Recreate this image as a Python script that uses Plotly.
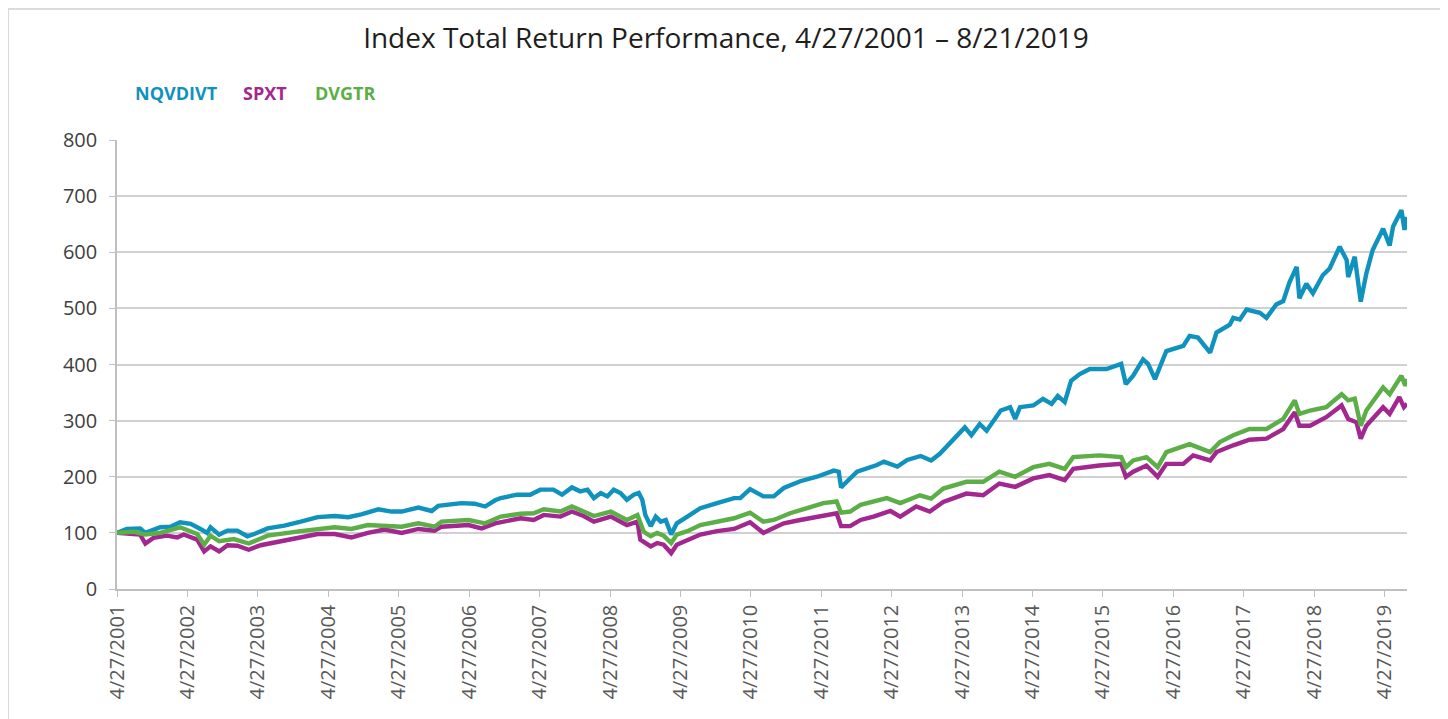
import plotly.graph_objects as go

# ---------------- data ----------------
nq_dates = ["2001-04-27","2001-06-17","2001-08-25","2001-09-21","2001-12-08","2002-01-30","2002-03-20","2002-05-14",
            "2002-07-04","2002-08-07","2002-08-25","2002-10-09","2002-11-21","2003-01-11","2003-03-04","2003-04-09",
            "2003-06-17","2003-09-12","2003-12-06","2004-03-03","2004-05-30","2004-08-07","2004-10-15","2005-01-11",
            "2005-03-21","2005-05-12","2005-08-07","2005-10-15","2005-11-18","2006-03-18","2006-05-26","2006-07-19",
            "2006-09-09","2006-10-08","2007-01-01","2007-03-10","2007-05-01","2007-07-08","2007-08-22","2007-10-12",
            "2007-11-24","2008-01-01","2008-02-03","2008-03-10","2008-04-13","2008-05-16","2008-06-20","2008-07-23",
            "2008-08-28","2008-09-23","2008-10-11","2008-10-27","2008-11-24","2008-12-20","2009-01-15","2009-02-10",
            "2009-03-10","2009-04-08","2009-06-02","2009-08-08","2009-11-03","2010-01-30","2010-03-03","2010-04-23",
            "2010-07-01","2010-08-24","2010-10-15","2011-01-08","2011-04-05","2011-07-01","2011-07-27","2011-08-08",
            "2011-09-09","2011-10-30","2012-02-10","2012-03-17","2012-05-26","2012-07-16","2012-09-24","2012-11-17",
            "2013-01-01","2013-03-10","2013-05-11","2013-06-14","2013-07-27","2013-09-01","2013-11-13","2014-01-01",
            "2014-01-27","2014-02-21","2014-05-01","2014-06-20","2014-08-04","2014-09-05","2014-10-11","2014-11-13",
            "2014-12-28","2015-02-18","2015-05-15","2015-07-31","2015-08-24","2015-10-01","2015-11-21","2015-12-17",
            "2016-01-22","2016-03-21","2016-06-17","2016-07-20","2016-09-01","2016-11-03","2016-12-06","2017-02-13",
            "2017-03-03","2017-04-06","2017-05-11","2017-07-19","2017-08-22","2017-10-12","2017-11-17","2017-12-20",
            "2018-01-26","2018-02-09","2018-03-17","2018-04-20","2018-06-10","2018-07-16","2018-09-06","2018-10-12",
            "2018-10-20","2018-11-23","2018-12-24","2019-01-22","2019-02-24","2019-04-19","2019-05-23","2019-06-10",
            "2019-07-23","2019-08-08","2019-08-21"]
nq_values = [100,107,108,100,110,111,119,116,
             107,100,110,97,104,104,94,98,
             108,113,120,128,130,128,133,142,
             138,138,145,139,148,153,152,147,
             158,162,168,168,177,177,168,181,
             174,177,162,171,165,177,171,159,
             168,171,159,132,112,129,120,123,
             97,117,129,144,153,162,162,178,
             165,165,180,192,200,211,209,181,
             192,209,221,227,218,230,237,229,
             241,265,288,274,294,282,318,324,
             303,324,327,339,330,344,333,371,
             383,392,392,401,365,380,409,401,
             374,424,433,451,448,421,457,471,
             483,480,498,492,483,507,513,547,
             574,518,544,527,559,571,610,586,
             556,592,512,562,604,642,612,646,
             675,640,663]

sp_dates = ["2001-04-27","2001-07-05","2001-08-25","2001-09-21","2001-11-02","2002-01-11","2002-03-06","2002-04-08",
            "2002-06-17","2002-07-23","2002-08-25","2002-10-09","2002-11-21","2003-01-11","2003-03-11","2003-05-12",
            "2003-08-25","2003-12-06","2004-03-03","2004-05-30","2004-08-25","2004-11-18","2005-02-13","2005-05-12",
            "2005-08-07","2005-10-30","2005-12-05","2006-04-23","2006-07-01","2006-09-09","2006-10-08","2007-01-19",
            "2007-03-28","2007-05-19","2007-08-14","2007-10-12","2007-12-12","2008-02-03","2008-05-01","2008-07-23",
            "2008-09-16","2008-10-01","2008-11-24","2008-12-27","2009-01-30","2009-03-10","2009-04-08","2009-06-02",
            "2009-08-08","2009-11-03","2010-01-30","2010-04-23","2010-07-01","2010-08-07","2010-10-15","2011-01-08",
            "2011-04-05","2011-07-16","2011-08-08","2011-09-24","2011-11-17","2012-01-23","2012-04-20","2012-06-10",
            "2012-09-01","2012-11-10","2013-01-19","2013-05-19","2013-08-14","2013-11-06","2014-01-27","2014-05-01",
            "2014-07-23","2014-10-11","2014-11-24","2015-04-09","2015-07-31","2015-08-24","2015-10-01","2015-12-09",
            "2016-02-05","2016-03-21","2016-06-17","2016-08-07","2016-11-03","2016-12-06","2017-03-03","2017-05-26",
            "2017-08-22","2017-11-17","2018-01-16","2018-02-09","2018-04-05","2018-06-28","2018-09-16","2018-10-20",
            "2018-12-02","2018-12-24","2019-01-22","2019-04-19","2019-05-23","2019-07-12","2019-08-05","2019-08-21"]
sp_values = [100,98,97,81,91,95,92,97,
             88,67,76,67,78,77,70,78,
             85,92,98,98,92,100,106,100,
             107,104,111,114,108,117,119,126,
             123,132,129,138,130,120,129,114,
             120,88,76,82,79,64,79,88,
             97,103,107,119,100,106,117,123,
             129,135,112,112,123,129,139,129,
             147,138,155,170,167,188,182,197,
             203,194,214,220,223,200,209,220,
             200,223,223,238,229,244,256,266,
             268,285,315,291,291,306,327,303,
             297,268,291,324,312,342,324,330]

dv_dates = ["2001-04-27","2001-07-23","2001-09-21","2001-12-08","2002-03-20","2002-06-17","2002-07-23","2002-08-25",
            "2002-10-09","2002-12-24","2003-03-11","2003-06-17","2003-12-06","2004-05-30","2004-08-25","2004-11-18",
            "2005-05-12","2005-08-07","2005-10-30","2005-12-05","2006-04-23","2006-07-19","2006-10-08","2007-01-19",
            "2007-03-28","2007-05-19","2007-08-14","2007-10-12","2007-12-12","2008-02-03","2008-05-01","2008-07-23",
            "2008-09-16","2008-10-19","2008-11-24","2008-12-27","2009-01-30","2009-03-10","2009-04-08","2009-06-02",
            "2009-08-08","2009-11-03","2010-01-30","2010-04-23","2010-07-01","2010-08-24","2010-11-17","2011-02-13",
            "2011-05-08","2011-07-16","2011-08-08","2011-09-24","2011-11-17","2012-04-01","2012-06-10","2012-09-20",
            "2012-11-17","2013-01-19","2013-05-19","2013-08-14","2013-11-06","2014-01-27","2014-05-01","2014-07-23",
            "2014-10-11","2014-11-24","2015-04-09","2015-07-31","2015-08-24","2015-10-01","2015-12-09","2016-02-05",
            "2016-03-21","2016-07-20","2016-11-03","2016-12-24","2017-03-03","2017-05-26","2017-08-22","2017-11-17",
            "2018-01-16","2018-02-09","2018-04-05","2018-06-28","2018-09-16","2018-10-20","2018-11-23","2018-12-24",
            "2019-01-22","2019-04-19","2019-05-23","2019-07-23","2019-08-12","2019-08-21"]
dv_values = [100,102,97,100,110,98,79,95,
             85,89,81,95,103,110,107,114,
             111,117,111,120,123,117,129,134,
             135,142,138,147,138,130,138,123,
             132,102,94,100,95,82,97,103,
             114,120,126,136,120,123,135,144,
             153,156,136,138,150,162,153,167,
             161,179,191,191,209,200,217,223,
             214,235,238,235,217,229,235,217,
             244,258,244,262,274,285,285,303,
             336,312,318,324,347,336,339,291,
             318,359,347,380,362,374]

series_names = ["NQVDIVT", "SPXT", "DVGTR"]
series_colors = ["#0F92BD", "#A2278E", "#5CAE46"]

tick_years = list(range(2001, 2020))
tick_vals = [f"{y}-04-27" for y in tick_years]
tick_text = [f"4/27/{y}" for y in tick_years]

y_ticks = list(range(0, 801, 100))

# ---------------- figure ----------------
fig = go.Figure()
for name, color, xs, ys in zip(series_names, series_colors,
                               [nq_dates, sp_dates, dv_dates],
                               [nq_values, sp_values, dv_values]):
    fig.add_trace(go.Scatter(x=xs, y=ys, mode="lines", name=name,
                             line=dict(color=color, width=4.4), showlegend=False))

# page has an 8px body margin; figure is laid out in its own coordinates
OFF = 8
W, H = 1440, 711
L, R, T, B = 117 - OFF, 41, 140 - OFF, 130
pw, ph = W - L - R, H - T - B

def px_x(x):
    return (x - OFF - L) / pw

def px_y(y):
    return (H - B - (y - OFF)) / ph

fig.update_layout(
    width=W, height=H,
    margin=dict(l=L, r=R, t=T, b=B),
    paper_bgcolor="white", plot_bgcolor="white",
    font=dict(family="Open Sans, Noto Sans, sans-serif", color="#404040"),
    title=dict(text="Index Total Return Performance, 4/27/2001 – 8/21/2019",
               x=(726 - OFF) / W, xanchor="center", y=1 - (38 - OFF) / H, yanchor="middle",
               font=dict(size=28, color="#1E1E1E", family="Open Sans, sans-serif")),
    xaxis=dict(type="date", range=["2001-04-27", "2019-08-21"],
               tickmode="array", tickvals=tick_vals, ticktext=tick_text,
               tickangle=-90, ticks="outside", ticklen=6, tickcolor="#BFBFBF",
               showgrid=False, showline=True, linecolor="#BFBFBF", linewidth=1.5,
               tickfont=dict(size=20, color="#595959"), zeroline=False),
    yaxis=dict(range=[0, 800], tickmode="array", tickvals=y_ticks,
               ticks="outside", ticklen=6, tickcolor="#BFBFBF",
               ticklabelstandoff=8,
               showgrid=True, gridcolor="#D0D0D0", gridwidth=1.5,
               showline=True, linecolor="#BFBFBF", linewidth=1.5,
               zeroline=False, tickfont=dict(size=20, color="#404040")),
)

# legend as coloured text
legend_x = [133, 241, 313]
for name, color, lx in zip(series_names, series_colors, legend_x):
    fig.add_annotation(text=f"<b>{name}</b>", x=px_x(lx), y=px_y(93),
                       xref="paper", yref="paper", xanchor="left", yanchor="middle",
                       showarrow=False, font=dict(size=18, color=color,
                                                  family="Open Sans, sans-serif"))

# outer chart border
fig.add_shape(type="rect", xref="paper", yref="paper",
              x0=px_x(8), x1=px_x(1447), y0=px_y(760), y1=px_y(9),
              line=dict(color="#D0D0D0", width=1.5), fillcolor="rgba(0,0,0,0)", layer="below")

fig.write_html("out.html")
